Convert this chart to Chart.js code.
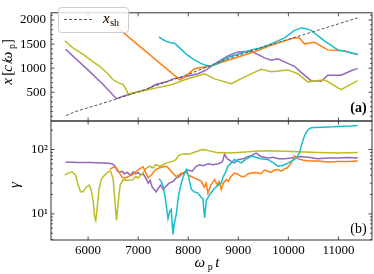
<!DOCTYPE html>
<html>
<head>
<meta charset="utf-8">
<script src="https://cdn.jsdelivr.net/npm/chart.js@4.4.0/dist/chart.umd.min.js"></script>
<style>
html,body{margin:0;padding:0;background:#fff;}
#wrap{position:relative;width:374px;height:274px;}
canvas{position:absolute;left:0;top:0;}
</style>
</head>
<body>
<div id="wrap">
<canvas id="chartTop" width="374" height="274"></canvas>
<canvas id="chartBot" width="374" height="274"></canvas>
</div>
<script>
// ---- data ----
const xTicks = [6000, 7000, 8000, 9000, 10000, 11000];
const posTicks = [500, 1000, 1500, 2000];
const gammaTicks = [10, 100];

// shock position x_sh
const tShock = [5560, 5700, 5900, 6200, 6600, 7000, 7500, 8000, 8500, 9000, 9500, 10000, 10500, 11000, 11380];
const xShock = [15, 80, 150, 240, 370, 510, 690, 870, 1080, 1270, 1440, 1600, 1760, 1920, 2045];

// panel (a): particle positions x [c/wp]
const tPurpleA = [5550, 6000, 6300, 6566, 6698, 6897, 7164, 7364, 7563, 7695, 7928, 8194, 8327, 8592, 8792, 8991, 9258, 9390, 9523, 9657, 9789, 9922, 10122, 10255, 10454, 10654, 10786, 11053, 11252, 11384];
const xPurple  = [1394, 960, 660, 367, 420, 479, 554, 666, 716, 778, 821, 884, 946, 1132, 1257, 1338, 1350, 1288, 1213, 1164, 1195, 1132, 1039, 914, 740, 728, 852, 852, 946, 996];

const tOliveA = [5535, 5700, 5900, 6100, 6233, 6400, 6499, 6600, 6698, 6760, 6798, 6900, 7031, 7200, 7364, 7500, 7695, 7928, 8127, 8327, 8526, 8859, 9190, 9457, 9657, 9988, 10188, 10387, 10720, 11053, 11384];
const xOlive  = [1567, 1420, 1287, 1130, 1039, 880, 759, 700, 666, 560, 466, 490, 511, 550, 591, 620, 666, 759, 821, 884, 778, 679, 852, 977, 927, 964, 884, 716, 759, 554, 740];

const tOrangeA = [6300, 7830, 7928, 8127, 8460, 8792, 9258, 9657, 9922, 10122, 10221, 10321, 10520, 10786, 11119, 11384];
const xOrange  = [2090, 759, 821, 989, 1051, 1164, 1319, 1474, 1567, 1630, 1625, 1505, 1537, 1380, 1362, 1276];

const tCyanA = [7416, 7500, 7563, 7650, 7729, 7850, 7962, 8100, 8250, 8427, 8592, 8792, 8991, 9258, 9457, 9657, 9922, 10122, 10255, 10355, 10454, 10720, 10986, 11186, 11384];
const xCyan  = [1649, 1590, 1556, 1530, 1519, 1400, 1290, 1190, 1100, 1030, 1101, 1226, 1288, 1380, 1424, 1505, 1630, 1785, 1836, 1817, 1785, 1567, 1380, 1338, 1288];

// panel (b): Lorentz factor gamma
const tPurpleB = [5550, 5800, 6000, 6200, 6400, 6480, 6540, 6580, 6620, 6680, 6720, 6780, 6850, 6900, 6950, 7000, 7050, 7100, 7150, 7200, 7240, 7280, 7320, 7360, 7400, 7450, 7500, 7560, 7620, 7700, 7760, 7820, 7880, 7950, 8000, 8080, 8150, 8220, 8300, 8400, 8500, 8600, 8680, 8726, 8780, 8850, 8925, 9000, 9100, 9200, 9258, 9358, 9450, 9590, 9700, 9800, 9922, 10050, 10150, 10255, 10400, 10587, 10800, 11000, 11200, 11384];
const gPurple  = [64, 63, 63, 62, 61, 60, 55, 47, 44, 46, 42, 44, 40, 45, 42, 44, 40, 42, 36, 30, 33, 26, 24, 22, 25, 28, 24, 27, 30, 32, 36, 38, 42, 44, 48, 46, 54, 58, 56, 60, 58, 60, 64, 84, 72, 66, 62, 70, 72, 78, 80, 88, 78, 74, 76, 72, 72, 74, 76, 78, 76, 72, 74, 74, 75, 74];

const tOliveB = [5535, 5600, 5680, 5750, 5800, 5850, 5900, 5960, 6020, 6060, 6100, 6130, 6153, 6180, 6220, 6270, 6330, 6400, 6450, 6500, 6530, 6566, 6600, 6640, 6700, 6800, 6897, 6950, 7000, 7050, 7097, 7150, 7230, 7300, 7350, 7430, 7500, 7563, 7640, 7695, 7760, 7800, 7862, 7950, 8028, 8150, 8250, 8327, 8400, 8500, 8592, 8700, 8800, 9000, 9200, 9400, 9600, 9922, 10200, 10587, 11000, 11384];
const gOlive  = [40, 43, 45, 40, 28, 22, 22, 26, 28, 24, 16, 9, 7.9, 12, 25, 35, 40, 45, 46, 35, 18, 7.9, 15, 28, 34, 33, 34, 38, 36, 40, 43, 50, 55, 52, 58, 55, 58, 62, 64, 66, 70, 80, 84, 86, 85, 92, 98, 100, 96, 92, 89, 90, 88, 90, 92, 95, 96, 94, 92, 90, 88, 90];

const tOrangeB = [6433, 6500, 6560, 6620, 6680, 6740, 6800, 6897, 6960, 7030, 7097, 7150, 7197, 7260, 7320, 7363, 7450, 7563, 7620, 7700, 7762, 7850, 7962, 8000, 8060, 8127, 8200, 8261, 8320, 8360, 8393, 8450, 8526, 8580, 8620, 8659, 8700, 8759, 8800, 8850, 8925, 9000, 9060, 9124, 9200, 9258, 9350, 9450, 9520, 9590, 9650, 9720, 9789, 9860, 9922, 9980, 10055, 10100, 10122, 10180, 10300, 10450, 10587, 10800, 11000, 11200, 11384];
const gOrange  = [49, 53, 52, 44, 37, 36, 38, 41, 46, 50, 54, 44, 36, 40, 46, 49, 53, 55, 50, 42, 38, 42, 46, 40, 38, 36, 34, 32, 26, 30, 21, 28, 34, 28, 32, 24, 30, 34, 32, 38, 43, 41, 38, 38, 42, 43, 44, 42, 48, 46, 44, 48, 49, 46, 50, 52, 62, 70, 79, 72, 68, 66, 66, 64, 65, 65, 66];

const tCyanB = [7416, 7460, 7496, 7540, 7596, 7630, 7662, 7680, 7695, 7720, 7762, 7810, 7862, 7920, 7962, 8000, 8061, 8120, 8194, 8260, 8294, 8310, 8327, 8345, 8360, 8430, 8526, 8600, 8659, 8700, 8750, 8792, 8860, 8925, 8990, 9058, 9150, 9258, 9350, 9450, 9590, 9700, 9789, 9860, 9922, 10000, 10122, 10180, 10222, 10260, 10300, 10340, 10400, 10454, 10520, 10700, 10900, 11100, 11250, 11384];
const gCyan  = [35, 32, 27, 18, 8.4, 11, 11.7, 7, 4.8, 7, 10, 20, 30, 42, 49, 40, 24, 22, 21, 18, 17, 12, 8.7, 12, 16, 20, 25, 28, 30, 38, 45, 55, 62, 70, 66, 62, 70, 79, 76, 72, 70, 62, 55, 56, 58, 62, 70, 78, 89, 115, 145, 175, 205, 217, 220, 222, 225, 230, 232, 236];

// ---- helpers ----
const PURPLE = '#9467bd', OLIVE = '#bcbd22', ORANGE = '#ff7f0e', CYAN = '#17becf';
const SERIF = '"Liberation Serif", "Times New Roman", serif';
Chart.defaults.font.family = SERIF;
Chart.defaults.font.size = 13;
Chart.defaults.color = '#000';

function pts(ts, vs) { return ts.map((t, i) => ({x: t, y: vs[i]})); }
function line(data, color, extra) {
  return Object.assign({data: data, borderColor: color, borderWidth: 1.5, pointRadius: 0, fill: false, tension: 0}, extra || {});
}

function richText(ctx, parts, x, y, rot) {
  ctx.save();
  ctx.translate(x, y);
  if (rot) ctx.rotate(rot);
  let w = 0;
  parts.forEach(p => { ctx.font = p.font; p.w = ctx.measureText(p.text).width + (p.gap || 0); w += p.w; });
  let cx = -w / 2;
  ctx.textBaseline = 'alphabetic';
  ctx.fillStyle = '#000';
  parts.forEach(p => { ctx.font = p.font; ctx.fillText(p.text, cx, p.dy || 0); cx += p.w; });
  ctx.restore();
}
const it = s => 'italic ' + s + 'px ' + SERIF;
const rm = s => s + 'px ' + SERIF;

// frame with inward ticks on all four sides
const framePlugin = {
  id: 'frame',
  afterDatasetsDraw(chart, args, opts) {
    const ctx = chart.ctx, a = chart.chartArea;
    const xs = chart.scales.x, ys = chart.scales.y;
    ctx.save();
    ctx.strokeStyle = '#222';
    ctx.lineWidth = 0.8;
    const tick = (x1, y1, x2, y2) => { ctx.beginPath(); ctx.moveTo(x1, y1); ctx.lineTo(x2, y2); ctx.stroke(); };
    opts.xMajor.forEach(v => {
      const px = xs.getPixelForValue(v);
      tick(px, a.bottom, px, a.bottom - 3.5);
      tick(px, a.top, px, a.top + 3.5);
    });
    opts.yMajor.forEach(v => {
      const py = ys.getPixelForValue(v);
      tick(a.left, py, a.left + 3.5, py);
      tick(a.right, py, a.right - 3.5, py);
    });
    opts.yMinor.forEach(v => {
      const py = ys.getPixelForValue(v);
      if (py < a.top || py > a.bottom) return;
      tick(a.left, py, a.left + 2, py);
      tick(a.right, py, a.right - 2, py);
    });
    ctx.lineWidth = 1;
    ctx.strokeStyle = '#333';
    ctx.strokeRect(a.left, a.top, a.right - a.left, a.bottom - a.top);
    if (opts.draw) opts.draw(ctx, a);
    ctx.restore();
  }
};
Chart.register(framePlugin);

const posMinor = [];
for (let v = 0; v <= 2100; v += 100) if (v % 500 !== 0 || v === 0) posMinor.push(v);
const gammaMinor = [4, 5, 6, 7, 8, 9, 20, 30, 40, 50, 60, 70, 80, 90, 200];

const X_MIN = 5259, X_MAX = 11670;

// ---- panel (a) ----
new Chart(document.getElementById('chartTop'), {
  type: 'line',
  data: {
    datasets: [
      line(pts(tShock, xShock), '#555', {borderWidth: 1, borderDash: [3, 2]}),
      line(pts(tCyanA, xCyan), CYAN),
      line(pts(tOrangeA, xOrange), ORANGE),
      line(pts(tOliveA, xOlive), OLIVE),
      line(pts(tPurpleA, xPurple), PURPLE)
    ]
  },
  options: {
    responsive: false, animation: false, devicePixelRatio: 1,
    layout: {padding: {left: 0, right: 2, top: 0.5, bottom: 153}},
    scales: {
      x: {type: 'linear', min: X_MIN, max: X_MAX, display: false},
      y: {
        type: 'linear', min: -97, max: 2150,
        grid: {display: false, drawTicks: false}, border: {display: false},
        afterBuildTicks: s => { s.ticks = posTicks.map(v => ({value: v})); },
        afterFit: s => { s.width = 51; },
        ticks: {padding: 5, callback: v => String(v)}
      }
    },
    plugins: {
      legend: {display: false}, tooltip: {enabled: false},
      frame: {
        xMajor: xTicks, yMajor: posTicks, yMinor: posMinor,
        draw(ctx, a) {
          // legend box
          ctx.fillStyle = 'rgba(255,255,255,0.8)';
          ctx.strokeStyle = '#cccccc';
          ctx.lineWidth = 1;
          ctx.beginPath();
          ctx.roundRect(58.5, 7.5, 70, 25, 3);
          ctx.fill(); ctx.stroke();
          ctx.strokeStyle = '#555';
          ctx.setLineDash([3, 2]);
          ctx.beginPath(); ctx.moveTo(64, 19.5); ctx.lineTo(92, 19.5); ctx.stroke();
          ctx.setLineDash([]);
          ctx.fillStyle = '#000';
          ctx.textBaseline = 'alphabetic';
          ctx.font = it(15); ctx.fillText('x', 103, 23);
          const w = ctx.measureText('x').width;
          ctx.font = rm(10); ctx.fillText('sh', 103 + w + 0.5, 26);
          // panel tag
          ctx.font = 'bold 14px ' + SERIF;
          ctx.textAlign = 'center'; ctx.textBaseline = 'middle';
          ctx.fillText('(a)', 358.5, 108.5);
          // y title
          richText(ctx, [
            {text: 'x', font: it(15), gap: 1.5}, {text: '[', font: rm(15)}, {text: 'c', font: it(15)},
            {text: '/', font: rm(15), gap: 0.5}, {text: 'ω', font: it(15)}, {text: 'p', font: rm(10), dy: 3},
            {text: ']', font: rm(15)}
          ], 12, 59, -Math.PI / 2);
        }
      }
    }
  }
});

// ---- panel (b) ----
new Chart(document.getElementById('chartBot'), {
  type: 'line',
  data: {
    datasets: [
      line(pts(tCyanB, gCyan), CYAN),
      line(pts(tOrangeB, gOrange), ORANGE),
      line(pts(tOliveB, gOlive), OLIVE),
      line(pts(tPurpleB, gPurple), PURPLE)
    ]
  },
  options: {
    responsive: false, animation: false, devicePixelRatio: 1,
    layout: {padding: {left: 0, right: 2, top: 121, bottom: 0}},
    scales: {
      x: {
        type: 'linear', min: X_MIN, max: X_MAX,
        grid: {display: false, drawTicks: false}, border: {display: false},
        afterBuildTicks: s => { s.ticks = xTicks.map(v => ({value: v})); },
        afterFit: s => { s.height = 34; },
        ticks: {padding: 3, maxRotation: 0, callback: v => String(v)}
      },
      y: {
        type: 'logarithmic', min: 3.93, max: 277,
        grid: {display: false, drawTicks: false}, border: {display: false},
        afterBuildTicks: s => { s.ticks = gammaTicks.map(v => ({value: v})); },
        afterFit: s => { s.width = 51; },
        ticks: {padding: 3, callback: v => (v === 10 ? '10¹' : '10²')}
      }
    },
    plugins: {
      legend: {display: false}, tooltip: {enabled: false},
      frame: {
        xMajor: xTicks, yMajor: gammaTicks, yMinor: gammaMinor,
        draw(ctx, a) {
          ctx.fillStyle = '#000';
          ctx.font = 14 + 'px ' + SERIF;
          ctx.textAlign = 'center'; ctx.textBaseline = 'middle';
          ctx.fillText('(b)', 358.5, 229);
          richText(ctx, [{text: 'γ', font: it(15)}], 19, 182, -Math.PI / 2);
          richText(ctx, [
            {text: 'ω', font: it(15)}, {text: 'p', font: rm(10), dy: 3}, {text: ' t', font: it(15)}
          ], 211.5, 267, 0);
        }
      }
    }
  }
});
</script>
</body>
</html>
